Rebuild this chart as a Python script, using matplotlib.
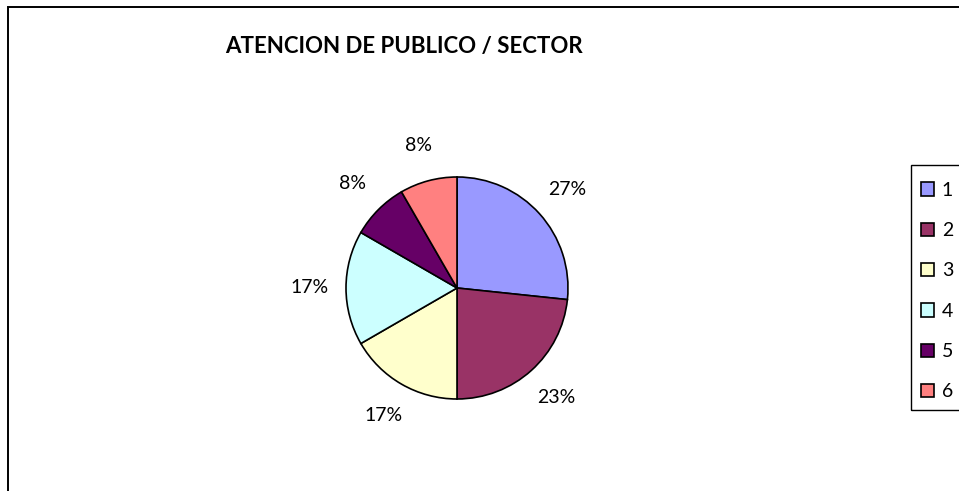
import matplotlib
matplotlib.use("Agg")
from matplotlib import pyplot
from matplotlib.patches import Rectangle

plt = pyplot

# Data
sectors = ["1", "2", "3", "4", "5", "6"]
counts = [16, 14, 10, 10, 5, 5]
colors = ["#9999FF", "#993366", "#FFFFCC", "#CCFFFF", "#660066", "#FF8080"]
title = "ATENCION DE PUBLICO / SECTOR"

W, H = 959, 491
plt.rcParams['font.family'] = ['Lato', 'DejaVu Sans']

fig = plt.figure(figsize=(W / 100, H / 100), dpi=100)
fig.patch.set_facecolor("white")


def px(x, y):
    # pixel (top-left origin) -> figure fraction
    return x / W, 1 - y / H


# outer chart border (only left/top visible, rest runs off the image)
fig.patches.append(Rectangle(px(8, 520), (1000 - 8) / W, (520 - 7) / H,
                             transform=fig.transFigure, fill=False,
                             edgecolor="black", linewidth=1.4))

# pie axes
cx, cy, r = 457, 288, 111
x0, y0 = px(cx - r, cy + r)
ax = fig.add_axes([x0, y0, 2 * r / W, 2 * r / H])
wedges, texts, autotexts = ax.pie(
    counts, colors=colors, startangle=90, counterclock=False,
    autopct=lambda p: "%d%%" % round(p), pctdistance=1.33,
    wedgeprops=dict(edgecolor="black", linewidth=1.2),
    textprops=dict(fontsize=14, color="black"))
ax.set_xlim(-1, 1)
ax.set_ylim(-1, 1)
ax.set_aspect("equal")
ax.axis("off")

fig.text(*px(404, 47), title, ha="center", va="center",
         fontsize=16, fontweight="bold")

# legend box
fig.patches.append(Rectangle(px(911, 410), 60 / W, (410 - 165) / H,
                             transform=fig.transFigure, fill=False,
                             edgecolor="black", linewidth=1.0))
leg = fig.legend(wedges, sectors, loc="upper left",
                 bbox_to_anchor=px(913, 174), frameon=False,
                 fontsize=14, handlelength=0.68, handleheight=0.68,
                 handletextpad=0.4, labelspacing=1.2, borderaxespad=0)

fig.savefig("out.png", dpi=100, facecolor="white")
